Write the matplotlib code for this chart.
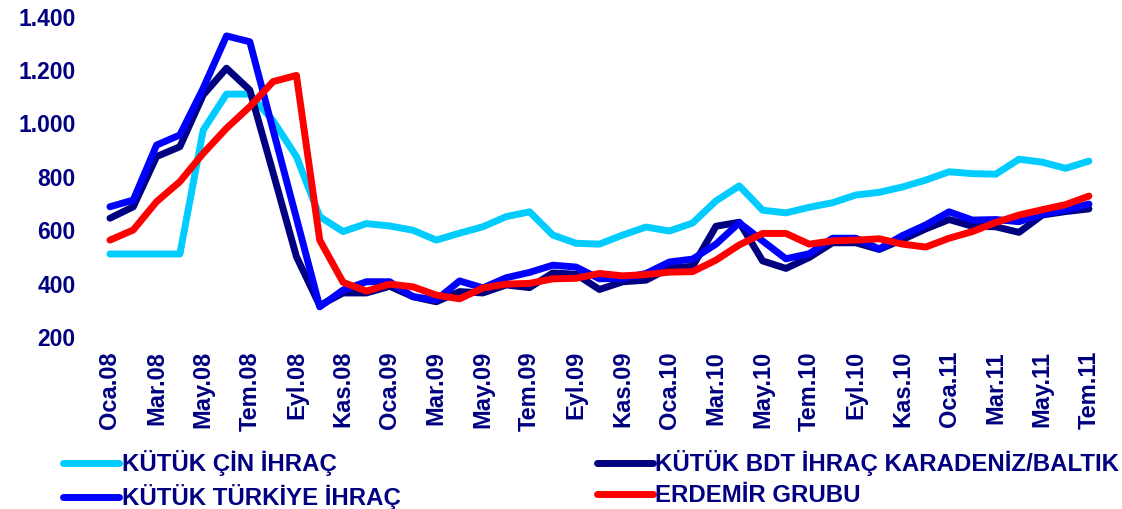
import matplotlib.pyplot as plt
from matplotlib.ticker import FuncFormatter

plt.rcParams['font.family'] = ['Liberation Sans', 'DejaVu Sans']
plt.rcParams['font.weight'] = 'bold'

# Aylık fiyatlar, Oca.08 - Tem.11 (USD/ton)
aylar = list(range(43))
cin_ihrac = [511, 511, 511, 511, 975, 1110, 1110, 1010, 876, 651, 595, 625,
             616, 600, 563, 589, 613, 651, 669, 582, 551, 548, 582, 612,
             597, 627, 710, 766, 675, 665, 686, 703, 732, 742, 762, 788,
             819, 812, 810, 866, 855, 832, 859]
bdt_ihrac = [645, 688, 876, 913, 1107, 1207, 1125, 815, 501, 318, 365, 365,
             390, 351, 332, 370, 365, 395, 385, 440, 435, 378, 407, 413,
             458, 465, 615, 630, 485, 457, 498, 553, 553, 528, 565, 605,
             640, 615, 613, 592, 657, 670, 680]
turkiye_ihrac = [688, 713, 919, 957, 1132, 1328, 1306, 975, 645, 313, 376, 407,
                 407, 351, 339, 410, 384, 422, 442, 469, 462, 418, 420, 438,
                 481, 492, 548, 628, 560, 493, 512, 570, 570, 530, 580, 620,
                 669, 638, 640, 632, 660, 676, 698]
erdemir = [563, 601, 707, 782, 888, 982, 1063, 1157, 1180, 563, 405, 372,
           398, 388, 357, 343, 384, 398, 401, 418, 420, 438, 429, 434,
           443, 445, 488, 545, 588, 588, 548, 560, 563, 568, 548, 537,
           570, 595, 629, 657, 677, 696, 728]

etiket_konum = list(range(0, 43, 2))
etiketler = ['Oca.08', 'Mar.08', 'May.08', 'Tem.08', 'Eyl.08', 'Kas.08',
             'Oca.09', 'Mar.09', 'May.09', 'Tem.09', 'Eyl.09', 'Kas.09',
             'Oca.10', 'Mar.10', 'May.10', 'Tem.10', 'Eyl.10', 'Kas.10',
             'Oca.11', 'Mar.11', 'May.11', 'Tem.11']

lacivert = '#000080'

fig = plt.figure(figsize=(11.22, 5.09), dpi=100)
ax = fig.add_axes([98.3 / 1122, 172 / 509, 1002.3 / 1122, 320.3 / 509])

lw = 5
ax.plot(aylar, cin_ihrac, color='#00CCFF', lw=lw, solid_capstyle='round', label='KÜTÜK ÇİN İHRAÇ')
ax.plot(aylar, bdt_ihrac, color='#000080', lw=lw, solid_capstyle='round', label='KÜTÜK BDT İHRAÇ KARADENİZ/BALTIK')
ax.plot(aylar, turkiye_ihrac, color='#0000FF', lw=lw, solid_capstyle='round', label='KÜTÜK TÜRKİYE İHRAÇ')
ax.plot(aylar, erdemir, color='#FF0000', lw=lw, solid_capstyle='round', label='ERDEMİR GRUBU')

ax.set_xlim(-0.5, 42.5)
ax.set_ylim(200, 1400)
ax.set_yticks(range(200, 1401, 200))
ax.yaxis.set_major_formatter(FuncFormatter(lambda v, p: f'{int(v):,}'.replace(',', '.')))
ax.set_xticks(etiket_konum)
ax.set_xticklabels(etiketler, rotation=90, va='top', ha='center')

for s in ax.spines.values():
    s.set_visible(False)
ax.tick_params(axis='y', length=0, pad=16.5, labelsize=16.5, labelcolor=lacivert)
ax.tick_params(axis='x', length=0, pad=10, labelsize=17, labelcolor=lacivert)

h, l = ax.get_legend_handles_labels()
sira = [0, 2, 1, 3]
leg = fig.legend([h[i] for i in sira], [l[i] for i in sira], ncol=2,
                 loc='upper left', bbox_to_anchor=(63 / 1122, 1 - 450 / 509),
                 frameon=False, borderpad=0, borderaxespad=0,
                 handlelength=2.35, handletextpad=0.1, columnspacing=8.15,
                 labelspacing=0.35, prop={'size': 17.3, 'weight': 'bold'})
for t in leg.get_texts():
    t.set_color(lacivert)

fig.savefig('out.png', dpi=100)
